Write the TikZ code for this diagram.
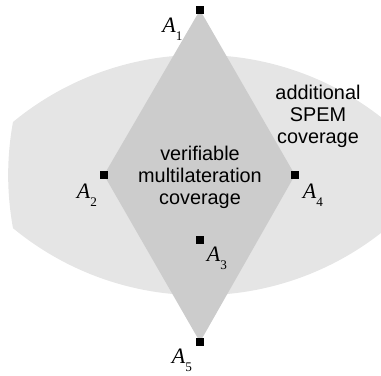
\documentclass[tikz,border=0pt]{standalone}
\usepackage{fontspec}
\setmainfont{Liberation Serif}
\setsansfont{Liberation Sans}
\usepackage{tikz}
\usetikzlibrary{positioning, backgrounds}

\newcommand{\anchorname}[1]{\textit{A}\raisebox{-4.5pt}{\fontsize{7.5}{7.5}\selectfont #1}}

\begin{document}
\begin{tikzpicture}[
    station/.style={fill=black, minimum size=0.16cm, inner sep=0pt},
    tag/.style={font=\fontsize{12.5}{12.5}\selectfont, inner sep=0pt},
    region/.style={align=center, font=\sffamily\fontsize{11.3}{12.5}\selectfont}
]
    \useasboundingbox (-4,-4) rectangle (3.62,3.5);
    \clip (-4,-4) rectangle (3.62,3.5);

    % Stations
    \node[station] (a1) at (0,3.3) {};
    \node[station] (a2) at (-1.92,0) {};
    \node[station] (a3) at (0,-1.3) {};
    \node[station] (a4) at (1.9,0) {};
    \node[station] (a5) at (0,-3.34) {};

    % Coverage areas
    \begin{scope}[on background layer]
    \fill[gray!20] (-3.74,1.06) arc[start angle=129.5, end angle=50.5, radius=5.88]
        arc[start angle=10.4, end angle=-10.4, radius=5.88]
        arc[start angle=-50.5, end angle=-129.5, radius=5.88]
        arc[start angle=190.4, end angle=169.6, radius=5.88] -- cycle;
    \fill[gray!40] (a1.center) -- (a2.center) -- (a5.center) -- (a4.center) -- cycle;
    \end{scope}

    % Labels
    \node[tag] (l1) at (-0.55,2.92) {\anchorname{1}};
    \node[tag] (l2) at (-2.26,-0.4) {\anchorname{2}};
    \node[tag] (l3) at (0.34,-1.66) {\anchorname{3}};
    \node[tag] (l4) at (2.26,-0.4) {\anchorname{4}};
    \node[tag] (l5) at (-0.36,-3.7) {\anchorname{5}};

    \node[region] (inner) at (0,-0.04) {verifiable\\multilateration\\coverage};
    \node[region] (outer) at (2.36,1.18) {additional\\SPEM\\coverage};

\end{tikzpicture}
\end{document}
